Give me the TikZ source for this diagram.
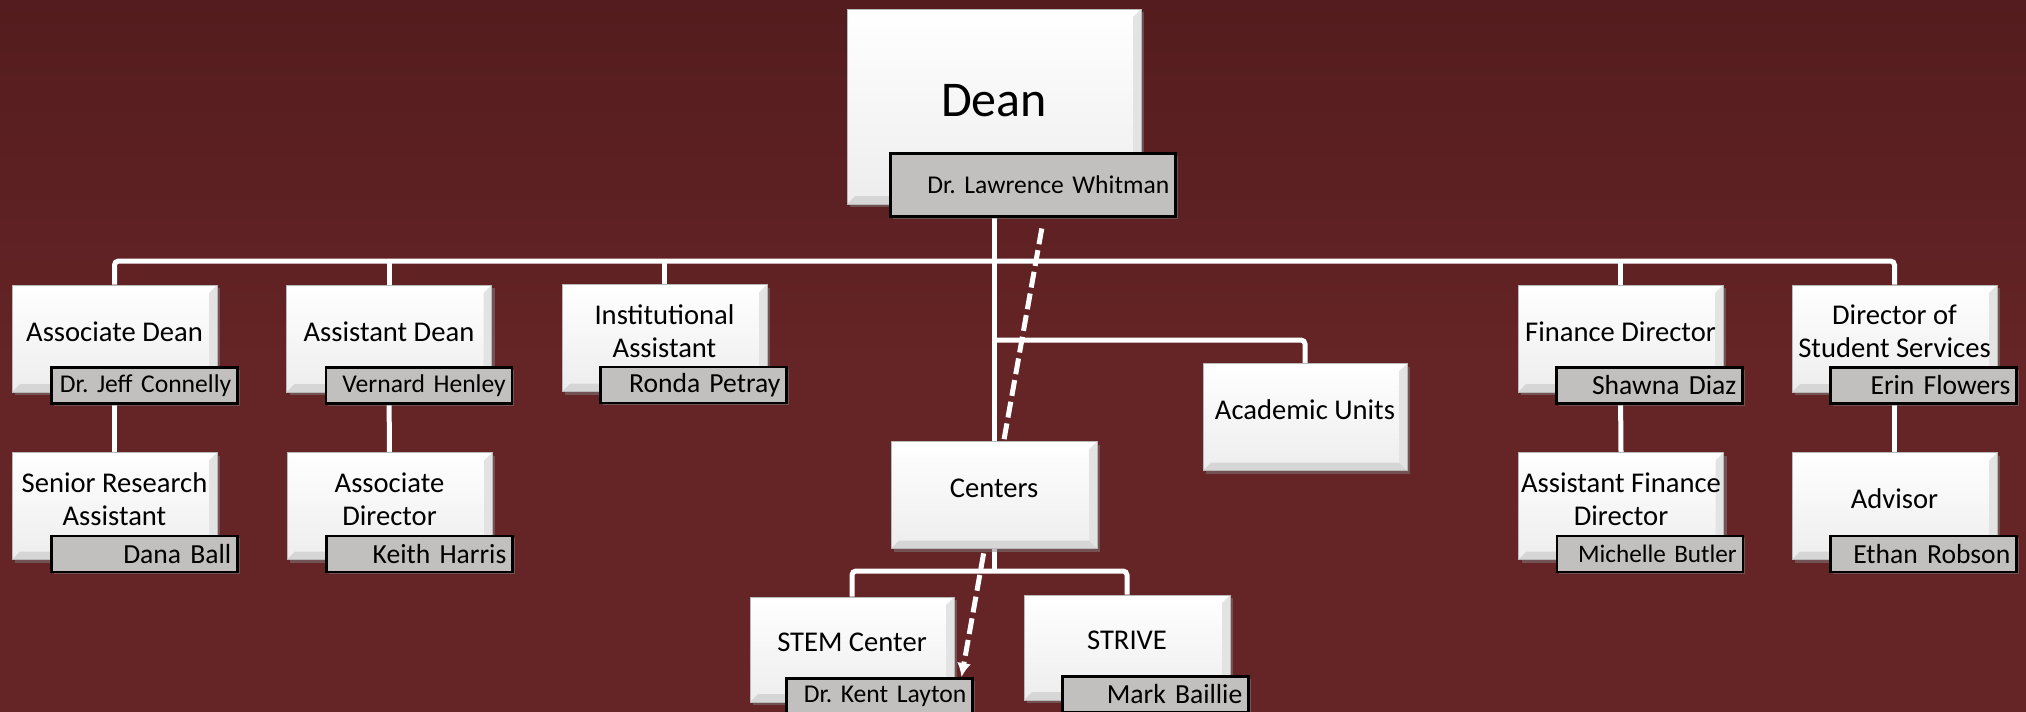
\documentclass[tikz,border=0pt]{standalone}
\usepackage{fontspec}
\setmainfont{Carlito}
\frenchspacing
\usetikzlibrary{arrows.meta,shadows,positioning}

\definecolor{maroon}{RGB}{101,36,38}
\definecolor{maroontop}{RGB}{84,28,30}
\definecolor{namegray}{RGB}{194,191,191}

\pgfdeclarelayer{backdrop}
\pgfdeclarelayer{links}
\pgfsetlayers{backdrop,links,main}

\begin{document}
\begin{tikzpicture}[x=0.5pt, y=-0.5pt,
        office/.style={rectangle, draw=gray!55, line width=0.5pt, top color=white, bottom color=gray!14,
            drop shadow={shadow xshift=1.5pt, shadow yshift=-1.5pt, opacity=0.5},
            path picture={
                \fill[gray!32] (path picture bounding box.south west) -- ++(4pt,4pt)
                    -- ([shift={(-4pt,4pt)}]path picture bounding box.south east)
                    -- (path picture bounding box.south east) -- cycle;
                \fill[gray!22] (path picture bounding box.south east) -- ++(-4pt,4pt)
                    -- ([shift={(-4pt,-4pt)}]path picture bounding box.north east)
                    -- (path picture bounding box.north east) -- cycle;
            },
            align=center, inner sep=0pt, text depth=7pt, minimum width=102.5pt, minimum height=53.5pt,
            font=\fontsize{14.3}{16.5}\selectfont},
        person/.style={rectangle, draw=black, line width=1.2pt, fill=namegray,
            drop shadow={shadow xshift=1.2pt, shadow yshift=-1.2pt, opacity=0.5},
            align=right, text width=87pt, inner xsep=3pt, inner ysep=0pt, minimum height=18pt,
            anchor=south east, font=\fontsize{13.8}{15}\selectfont},
        link/.style={white, line width=2.5pt},
        dotted link/.style={white, line width=2.5pt, dash pattern=on 8pt off 3pt}
    ]
    \useasboundingbox (0,0) rectangle (2026,712);
    \begin{pgfonlayer}{backdrop}
        \fill[top color=maroontop, bottom color=maroon, middle color=maroon] (0,0) rectangle (2026,712);
    \end{pgfonlayer}

    % helper points for the buses
    \coordinate (bus) at (994,261);
    \coordinate (sub) at (994,340);
    \coordinate (cbus) at (994,571);

    % boxes
    \path
        (994,106.5) node[office, minimum width=147pt, minimum height=97.5pt, text depth=6pt, font=\fontsize{25}{28}\selectfont] (dean) {Dean}
        (114.5,338.5) node[office] (ad) {Associate Dean}
        (114.5,506) node[office] (sra) {Senior Research\\Assistant}
        (389,338.5) node[office] (asd) {Assistant Dean}
        (389.5,506) node[office] (assocdir) {Associate\\Director}
        (664.5,338) node[office] (inst) {Institutional\\Assistant}
        (1620.5,338.5) node[office] (fin) {Finance Director}
        (1621,506) node[office] (afin) {Assistant Finance\\Director}
        (1894.5,338.5) node[office] (dss) {Director of\\Student Services}
        (1894.5,506) node[office] (adv) {Advisor}
        (994,495) node[office, minimum width=103pt] (centers) {Centers}
        (1305,417) node[office, minimum width=102pt] (acad) {Academic Units}
        (852,649.5) node[office, minimum width=102pt, minimum height=52.5pt] (stem) {STEM Center}
        (1127,647.5) node[office, minimum width=103pt, minimum height=52.5pt] (strive) {STRIVE};

    % name tags
    \node[person, text width=136.5pt, minimum height=31.5pt, font=\fontsize{12.8}{15}\selectfont] (deanN) at ([shift={(35,13)}]dean.south east) {Dr. Lawrence Whitman};
    \node[person, font=\fontsize{12.8}{15}\selectfont] (adN) at ([shift={(21,12)}]ad.south east) {Dr. Jeff Connelly};
    \node[person] (sraN) at ([shift={(21,13)}]sra.south east) {Dana Ball};
    \node[person, font=\fontsize{12.8}{15}\selectfont] (asdN) at ([shift={(21,12)}]asd.south east) {Vernard Henley};
    \node[person] (assocdirN) at ([shift={(21,13)}]assocdir.south east) {Keith Harris};
    \node[person] (instN) at ([shift={(20,12)}]inst.south east) {Ronda Petray};
    \node[person] (finN) at ([shift={(20,12)}]fin.south east) {Shawna Diaz};
    \node[person, font=\fontsize{12.6}{15}\selectfont] (afinN) at ([shift={(20,13)}]afin.south east) {Michelle Butler};
    \node[person] (dssN) at ([shift={(20,12)}]dss.south east) {Erin Flowers};
    \node[person] (advN) at ([shift={(20,13)}]adv.south east) {Ethan Robson};
    \node[person, font=\fontsize{12.8}{15}\selectfont] (stemN) at ([shift={(19,13)}]stem.south east) {Dr. Kent Layton};
    \node[person] (striveN) at ([shift={(19,13)}]strive.south east) {Mark Baillie};

    \begin{pgfonlayer}{links}
        \draw[link] (dean.south) -- (centers.north);
        \draw[link, rounded corners=2pt] (ad.north) |- (bus) -| (dss.north);
        \foreach \n in {asd,inst,fin}
            \draw[link] (\n.north) -- (\n.north |- bus);
        \draw[link, rounded corners=2pt] (sub) -| (acad.north);
        \foreach \t/\b in {ad/sra, asd/assocdir, fin/afin, dss/adv}
            \draw[link] (\t.south) -- (\b.north);
        \draw[link] (centers.south) -- (cbus);
        \draw[link, rounded corners=2pt] (stem.north) |- (cbus) -| (strive.north);
        % dotted reporting line
        \draw[dotted link, -{Latex[length=7pt, width=7pt]}] ([shift={(9,11)}]deanN.south) -- ([xshift=-6]stemN.north east);
    \end{pgfonlayer}
\end{tikzpicture}
\end{document}
